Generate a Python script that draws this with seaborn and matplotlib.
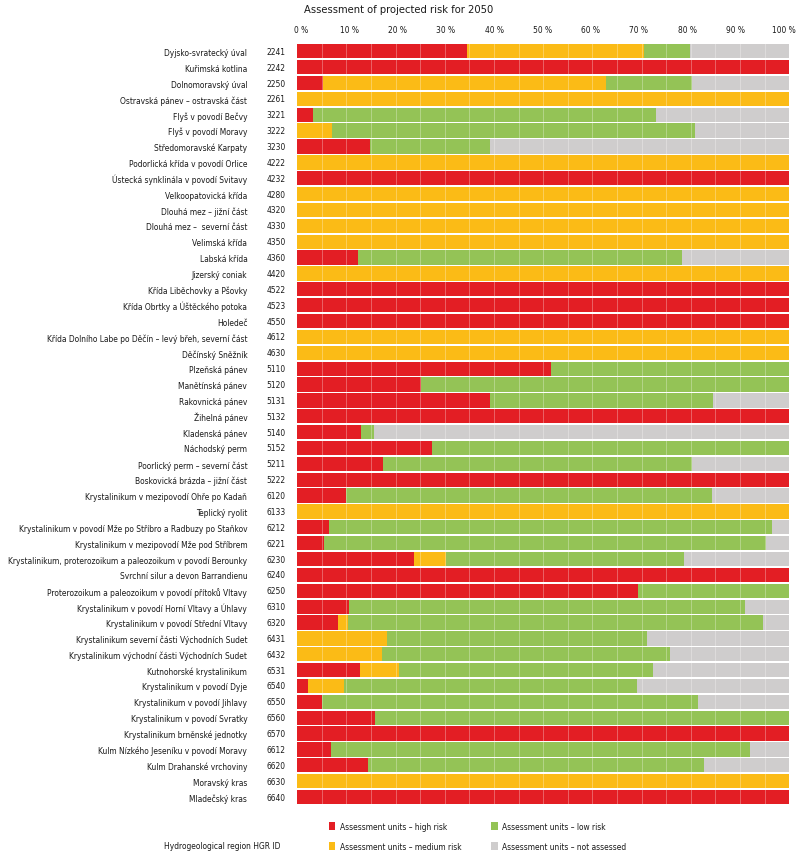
import numpy as np
import pandas as pd
import matplotlib
matplotlib.use("Agg")
import matplotlib.pyplot as plt
import seaborn as sns
from matplotlib.patches import Patch

# hydrogeological regions (top to bottom)
names = [
    "Dyjsko-svratecký úval", "Kuřimská kotlina", "Dolnomoravský úval",
    "Ostravská pánev – ostravská část", "Flyš v povodí Bečvy", "Flyš v povodí Moravy",
    "Středomoravské Karpaty", "Podorlická křída v povodí Orlice",
    "Ústecká synklinála v povodí Svitavy", "Velkoopatovická křída",
    "Dlouhá mez – jižní část", "Dlouhá mez –  severní část", "Velimská křída",
    "Labská křída", "Jizerský coniak", "Křída Liběchovky a Pšovky",
    "Křída Obrtky a Úštěckého potoka", "Holedeč",
    "Křída Dolního Labe po Děčín – levý břeh, severní část", "Děčínský Sněžník",
    "Plzeňská pánev", "Manětínská pánev", "Rakovnická pánev", "Žihelná pánev",
    "Kladenská pánev", "Náchodský perm", "Poorlický perm – severní část",
    "Boskovická brázda – jižní část", "Krystalinikum v mezipovodí Ohře po Kadaň",
    "Teplický ryolit", "Krystalinikum v povodí Mže po Stříbro a Radbuzy po Staňkov",
    "Krystalinikum v mezipovodí Mže pod Stříbrem",
    "Krystalinikum, proterozoikum a paleozoikum v povodí Berounky",
    "Svrchní silur a devon Barrandienu",
    "Proterozoikum a paleozoikum v povodí přítoků Vltavy",
    "Krystalinikum v povodí Horní Vltavy a Úhlavy",
    "Krystalinikum v povodí Střední Vltavy",
    "Krystalinikum severní části Východních Sudet",
    "Krystalinikum východní části Východních Sudet", "Kutnohorské krystalinikum",
    "Krystalinikum v povodí Dyje", "Krystalinikum v povodí Jihlavy",
    "Krystalinikum v povodí Svratky", "Krystalinikum brněnské jednotky",
    "Kulm Nízkého Jeseníku v povodí Moravy", "Kulm Drahanské vrchoviny",
    "Moravský kras", "Mladečský kras",
]
ids = [
    "2241", "2242", "2250", "2261", "3221", "3222", "3230", "4222", "4232", "4280",
    "4320", "4330", "4350", "4360", "4420", "4522", "4523", "4550", "4612", "4630",
    "5110", "5120", "5131", "5132", "5140", "5152", "5211", "5222", "6120", "6133",
    "6212", "6221", "6230", "6240", "6250", "6310", "6320", "6431", "6432", "6531",
    "6540", "6550", "6560", "6570", "6612", "6620", "6630", "6640",
]

# share of assessment units, %
high = [34.5, 100, 5.2, 0, 3.1, 0, 14.7, 0, 100, 0,
        0, 0, 0, 12.3, 0, 100, 100, 100, 0, 0,
        51.5, 25.2, 39.2, 100, 12.9, 27.3, 17.4, 100, 9.9, 0,
        6.4, 5.4, 23.7, 100, 69.2, 10.5, 8.2, 0, 0, 12.8,
        2.2, 5.0, 15.8, 100, 6.8, 14.4, 0, 100]
medium = [36.0, 0, 57.6, 100, 0, 7.0, 0, 100, 0, 100,
          100, 100, 100, 0, 100, 0, 0, 0, 100, 100,
          0, 0, 0, 0, 0, 0, 0, 0, 0, 100,
          0, 0, 6.6, 0, 0, 0, 2.2, 18.2, 17.3, 7.8,
          7.3, 0, 0, 0, 0, 0, 100, 0]
low = [9.4, 0, 17.4, 0, 69.8, 73.8, 24.5, 0, 0, 0,
       0, 0, 0, 65.9, 0, 0, 0, 0, 0, 0,
       48.5, 74.8, 45.4, 0, 2.6, 72.7, 62.8, 0, 74.4, 0,
       90.1, 89.8, 48.3, 0, 30.8, 80.6, 84.3, 53.0, 58.5, 51.7,
       59.6, 76.4, 84.2, 0, 85.3, 68.2, 0, 0]
not_assessed = [20.1, 0, 19.8, 0, 27.1, 19.2, 60.8, 0, 0, 0,
                0, 0, 0, 21.8, 0, 0, 0, 0, 0, 0,
                0, 0, 15.4, 0, 84.5, 0, 19.8, 0, 15.7, 0,
                3.5, 4.8, 21.4, 0, 0, 8.9, 5.3, 28.8, 24.2, 27.7,
                30.9, 18.6, 0, 0, 7.9, 17.4, 0, 0]

categories = ["Assessment units – high risk", "Assessment units – medium risk",
              "Assessment units – low risk", "Assessment units – not assessed"]
colors = ["#e31e24", "#fbbb16", "#94c356", "#cfcdcd"]
tick_labels = ["0 %", "10 %", "20 %", "30 %", "40 %", "50 %",
               "60 %", "70 %", "80 %", "90 %", "100 %"]

df = pd.DataFrame({"name": names, "id": ids, "high": high, "medium": medium,
                   "low": low, "not": not_assessed})
cols = ["high", "medium", "low", "not"]
cum = df[cols].cumsum(axis=1)

sns.set_theme(style="white")
plt.rcParams["font.family"] = ["DejaVu Sans"]
plt.rcParams["font.stretch"] = "condensed"
plt.rcParams["text.color"] = "#1a1a1a"

fs = 6.0

fig = plt.figure(figsize=(8, 8.53), dpi=100)
ax = fig.add_axes([0.3716, 0.0551, 0.6148, 0.8929])

# stacked bars: draw cumulative totals from the back to the front
for col, c in zip(cols[::-1], colors[::-1]):
    sns.barplot(x=cum[col], y=df["name"], orient="h", color=c, saturation=1,
                width=0.9, linewidth=0, errorbar=None, ax=ax)

# faint grid lines across the bars
for v in range(5, 100, 5):
    ax.axvline(v, color="white", lw=0.6, alpha=0.35, zorder=5)

ax.set_xlim(0, 100)
ax.set_ylim(len(names) - 0.5, -0.5)
ax.set_xlabel("")
ax.set_ylabel("")
sns.despine(ax=ax, left=True, bottom=True)

ax.xaxis.tick_top()
ax.set_xticks(np.linspace(0.75, 98.9, 11))
ax.set_xticklabels(tick_labels, fontsize=fs)
ax.tick_params(axis="x", length=0, pad=7, colors="#1a1a1a")
ax.tick_params(axis="y", length=0, pad=36, labelsize=fs, colors="#1a1a1a")

for i, code in enumerate(ids):
    ax.text(-0.0437, i, code, transform=ax.get_yaxis_transform(),
            ha="center", va="center", fontsize=fs)

fig.text(0.4988, 0.988, "Assessment of projected risk for 2050",
         ha="center", va="center", fontsize=8)

handles = [Patch(facecolor=c, edgecolor="none") for c in colors]
fig.legend(handles, categories, ncol=2, loc="upper left",
           bbox_to_anchor=(0.411, 0.0352), frameon=False, fontsize=fs,
           handlelength=0.8, handleheight=1.0, handletextpad=0.5,
           columnspacing=3.6, labelspacing=1.3, borderaxespad=0, borderpad=0)

fig.text(0.2775, 0.0082, "Hydrogeological region HGR ID",
         ha="center", va="center", fontsize=fs)

fig.savefig("out.png", dpi=100)
